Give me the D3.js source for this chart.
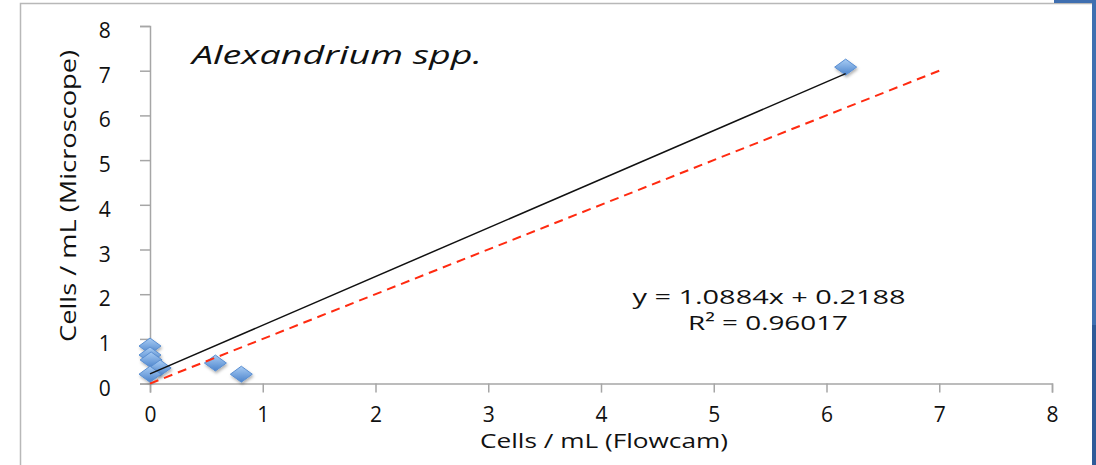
<!DOCTYPE html>
<html>
<head>
<meta charset="utf-8">
<script src="https://cdn.jsdelivr.net/npm/d3@7"></script>
<style>
  body { margin: 0; background: #fff; }
  svg { display: block; }
  .lbl { font-family: "Open Sans", "DejaVu Sans", sans-serif; fill: #111; }
</style>
</head>
<body>
<svg id="chart" width="1096" height="465"></svg>
<script>
// data
var flowcam    = [0, 0, 0.01, 0.09, 0, 0.58, 0.81, 6.17];
var microscope = [0.84, 0.64, 0.53, 0.35, 0.21, 0.46, 0.21, 7.08];
var xTicks = [0, 1, 2, 3, 4, 5, 6, 7, 8];
var yTicks = [0, 1, 2, 3, 4, 5, 6, 7, 8];
var slope = 1.0884, intercept = 0.2188, r2 = "0.96017";
var oneToOne = [0, 7];

var svg = d3.select("#chart");

// outer frame + bits of the window edge
svg.append("rect").attr("x", 20.5).attr("y", 3.5).attr("width", 1200).attr("height", 600)
    .attr("fill", "#fff").attr("stroke", "#b8b8b8").attr("stroke-width", 1.5);
svg.append("rect").attr("x", 1054).attr("y", 0).attr("width", 42).attr("height", 3).attr("fill", "#3f6fb0");
svg.append("rect").attr("x", 1092).attr("y", 0).attr("width", 4).attr("height", 325).attr("fill", "#3f6fb0");
svg.append("rect").attr("x", 1092).attr("y", 325).attr("width", 4).attr("height", 140).attr("fill", "#2f5a98");

var x = d3.scaleLinear().domain([0, 8]).range([150, 1052]);
var y = d3.scaleLinear().domain([0, 8]).range([383.6, 26]);

var defs = svg.append("defs");
var grad = defs.append("linearGradient").attr("id", "dia").attr("x1", 0).attr("y1", 0).attr("x2", 0).attr("y2", 1);
grad.append("stop").attr("offset", "0%").attr("stop-color", "#a8ccf4");
grad.append("stop").attr("offset", "100%").attr("stop-color", "#4c84cc");
var shadow = defs.append("filter").attr("id", "sh").attr("x", "-50%").attr("y", "-50%").attr("width", "200%").attr("height", "200%");
shadow.append("feDropShadow").attr("dx", 1).attr("dy", 2).attr("stdDeviation", 1.5)
    .attr("flood-color", "#000").attr("flood-opacity", 0.3);

// axes: d3 draws lines and labels, then labels get restyled
var xAxis = svg.append("g").attr("transform", "translate(0," + y(0) + ")")
    .call(d3.axisBottom(x).tickValues(xTicks).tickSize(9).tickPadding(14));
var yAxis = svg.append("g").attr("transform", "translate(" + x(0) + ",0)")
    .call(d3.axisLeft(y).tickValues(yTicks).tickSize(10).tickPadding(28));
[xAxis, yAxis].forEach(function(a) {
    a.attr("font-size", null).attr("font-family", null);
    a.select(".domain").attr("stroke", "#a6a6a6").attr("stroke-width", 1.5);
    a.selectAll(".tick line").attr("stroke", "#a6a6a6").attr("stroke-width", 1.5);
    a.selectAll(".tick text").attr("class", "lbl").style("font-size", "21px");
});
yAxis.selectAll(".tick text").attr("text-anchor", "middle").attr("dx", "-0.35em").attr("dy", "0.55em");

// points
svg.append("g").selectAll("path")
    .data(flowcam.map(function(v, i) { return [v, microscope[i]]; }))
    .enter()
    .append("path")
    .attr("d", function(d) {
        var cx = x(d[0]), cy = y(d[1]);
        return "M" + (cx - 11) + "," + cy + "L" + cx + "," + (cy - 8) + "L" + (cx + 11) + "," + cy + "L" + cx + "," + (cy + 8) + "Z";
    })
    .attr("fill", "url(#dia)")
    .attr("stroke", "#5a8fd2")
    .attr("stroke-width", 1)
    .attr("filter", "url(#sh)");

// trendline over the data range
var xmax = d3.max(flowcam);
svg.append("line")
    .attr("x1", x(0)).attr("y1", y(intercept))
    .attr("x2", x(xmax)).attr("y2", y(slope * xmax + intercept))
    .attr("stroke", "#111").attr("stroke-width", 1.5);

// 1:1 line
svg.append("line")
    .attr("x1", x(oneToOne[0])).attr("y1", y(oneToOne[0]))
    .attr("x2", x(oneToOne[1])).attr("y2", y(oneToOne[1]))
    .attr("stroke", "#ff2a10").attr("stroke-width", 2).attr("stroke-dasharray", "9,6");

// texts
svg.append("text").attr("class", "lbl").attr("x", 192).attr("y", 64)
    .attr("textLength", 290).attr("lengthAdjust", "spacingAndGlyphs")
    .style("font-size", "26px").style("font-style", "italic")
    .text("Alexandrium spp.");

svg.append("text").attr("class", "lbl").attr("x", 769).attr("y", 304).attr("text-anchor", "middle")
    .attr("textLength", 273).attr("lengthAdjust", "spacingAndGlyphs")
    .style("font-size", "20px")
    .text("y = " + slope + "x + " + intercept);
svg.append("text").attr("class", "lbl").attr("x", 768).attr("y", 330).attr("text-anchor", "middle")
    .attr("textLength", 160).attr("lengthAdjust", "spacingAndGlyphs")
    .style("font-size", "20px")
    .text("R² = " + r2);

svg.append("text").attr("class", "lbl").attr("x", 604).attr("y", 448).attr("text-anchor", "middle")
    .attr("textLength", 248).attr("lengthAdjust", "spacingAndGlyphs")
    .style("font-size", "20px")
    .text("Cells / mL (Flowcam)");

svg.append("text").attr("class", "lbl").attr("transform", "translate(76,196) rotate(-90)").attr("text-anchor", "middle")
    .attr("textLength", 292).attr("lengthAdjust", "spacingAndGlyphs")
    .style("font-size", "22px")
    .text("Cells / mL (Microscope)");
</script>
</body>
</html>
